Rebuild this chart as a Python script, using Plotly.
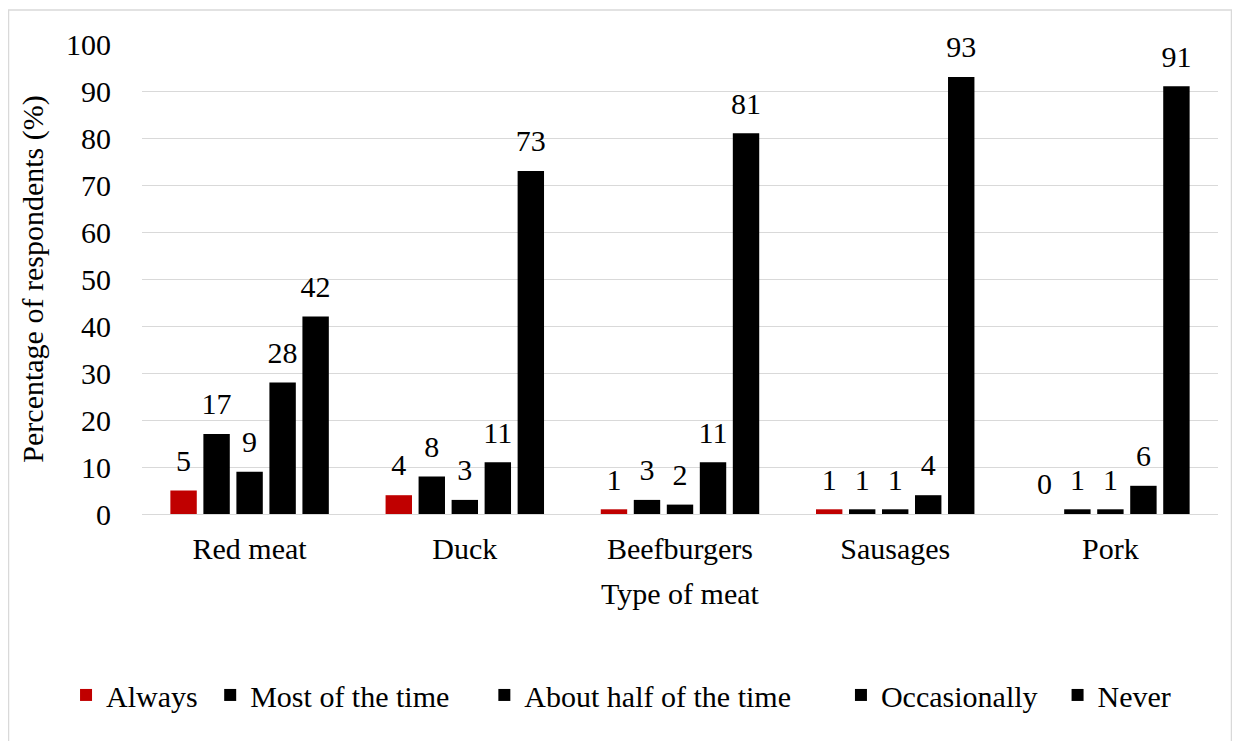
import plotly.graph_objects as go

categories = ["Red meat", "Duck", "Beefburgers", "Sausages", "Pork"]
series_names = ["Always", "Most of the time", "About half of the time", "Occasionally", "Never"]
always = [5, 4, 1, 1, 0]
most_of_the_time = [17, 8, 3, 1, 1]
about_half = [9, 3, 2, 1, 1]
occasionally = [28, 11, 11, 4, 6]
never = [42, 73, 81, 93, 91]
series_values = [always, most_of_the_time, about_half, occasionally, never]
series_colors = ["#C00000", "#000000", "#000000", "#000000", "#000000"]
y_ticks = [0, 10, 20, 30, 40, 50, 60, 70, 80, 90, 100]

FONT = "Liberation Serif"
FS = 30
NBSP = "\u00a0"
legend_pad = [1, 4, 6, 2, 0]  # extra spacing after each legend entry

fig = go.Figure()
for i, (name, vals, col) in enumerate(zip(series_names, series_values, series_colors)):
    fig.add_trace(go.Bar(
        x=categories, y=vals, name=name + NBSP * legend_pad[i],
        marker=dict(color=col, line=dict(width=0)),
        offsetgroup=str(i), hoverinfo="x+y",
    ))
for i, vals in enumerate(series_values):
    fig.add_trace(go.Scatter(
        x=categories, y=vals, mode="markers+text",
        text=[str(v) for v in vals], textposition="top center",
        textfont=dict(family=FONT, size=FS, color="#000000"),
        marker=dict(size=18, color="rgba(0,0,0,0)", opacity=0),
        offsetgroup=str(i), showlegend=False, cliponaxis=False, hoverinfo="skip",
    ))

fig.update_layout(
    width=1224, height=733,
    paper_bgcolor="white", plot_bgcolor="white",
    font=dict(family=FONT, size=FS, color="#000000"),
    barmode="group", bargap=0.233, bargroupgap=0.2,
    scattermode="group", scattergap=0.233,
    margin=dict(l=134, r=14, t=36, b=227, pad=0),
    showlegend=True,
    legend=dict(orientation="h", x=-0.0706, xanchor="left", y=-0.385, yanchor="middle",
                font=dict(family=FONT, size=FS), traceorder="normal"),
    xaxis=dict(title=dict(text="Type of meat", font=dict(family=FONT, size=FS), standoff=18),
               showgrid=False, showline=True, linecolor="#D9D9D9", linewidth=1,
               ticks="", ticklabelstandoff=8, tickfont=dict(family=FONT, size=FS)),
    yaxis=dict(title=dict(text="Percentage of respondents (%)", font=dict(family=FONT, size=FS), standoff=13),
               range=[0, 100], tickvals=y_ticks, showgrid=True, gridcolor="#D9D9D9",
               gridwidth=1, zeroline=False, showline=False, ticks="",
               ticklabelstandoff=30, tickfont=dict(family=FONT, size=FS)),
)

fig.add_shape(type="rect", xref="paper", yref="paper",
              x0=-0.12407, x1=1.01255, y0=-0.6, y1=1.0723,
              line=dict(color="#D9D9D9", width=1.5), fillcolor="rgba(0,0,0,0)", layer="below")

fig.write_html("out.html")
